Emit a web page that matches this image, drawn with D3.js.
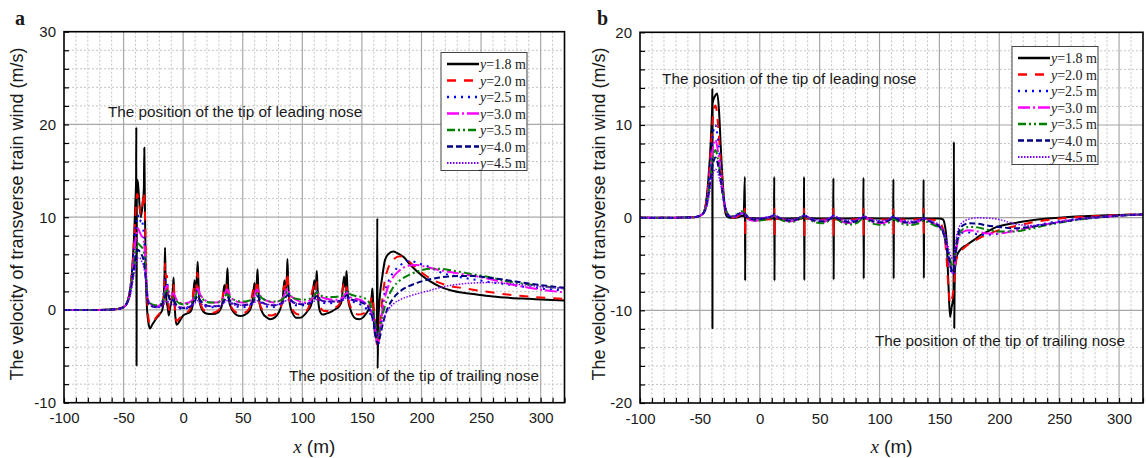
<!DOCTYPE html>
<html>
<head>
<meta charset="utf-8">
<script src="https://cdn.jsdelivr.net/npm/d3@7"></script>
<style>
body { margin: 0; background: #fff; }
svg { display: block; }
text { font-family: "Liberation Sans", Arial, sans-serif; fill: #1a1a1a; }
</style>
</head>
<body>
<svg id="chart" width="1146" height="458"></svg>
<script>
// ---- data ----
var heights = ["1.8", "2.0", "2.5", "3.0", "3.5", "4.0", "4.5"];
var xTickLabels = [-100, -50, 0, 50, 100, 150, 200, 250, 300];
var yTickLabelsA = [-10, 0, 10, 20, 30];
var yTickLabelsB = [-20, -10, 0, 10, 20];

// panel a : [x (m), velocity (m/s)]
var a18 = [[-100,0],[-70,0],[-55,0.1],[-50,0.3],[-47,0.8],[-45,1.8],[-43,4],[-41,8.5],[-40,12],[-39.5,14],[-39.3,19.7],[-39.1,-6],[-38.9,13.5],[-38.2,14],[-37,12],[-35.5,10],[-34,11.5],[-33,13],[-32.6,17.5],[-32.2,12],[-31.5,5],[-30.5,0.5],[-29,-1.5],[-27.8,-2],[-26,-1.6],[-23,-1.0],[-20,-0.5],[-17.5,0],[-16.3,1.5],[-15.6,4],[-15.2,6.7],[-14.8,3.5],[-14,1],[-13,0.3],[-12,-0.6],[-11,0.2],[-9.5,1.2],[-8.5,2.5],[-8,3.5],[-7.5,1.5],[-6.5,-0.8],[-5.4,-1.6],[-3,-1.2],[0,-0.6],[3,-0.4],[6,-0.2],[8,0.5],[9.5,3.2],[10.5,2],[11.5,3.5],[12.2,5.2],[12.8,3],[13.5,1.2],[15,0.3],[17,-0.2],[20,-0.4],[25,-0.45],[29,-0.3],[31,0],[33,0.8],[34.5,2.7],[35.5,1.8],[36.5,3],[37.2,4.5],[37.8,2.5],[38.5,1.0],[40,0.3],[42,-0.2],[45,-0.55],[48,-0.65],[52,-0.5],[55,-0.2],[57,0.3],[58.5,1.2],[59.8,2.9],[60.8,1.8],[61.8,3],[62.4,4.4],[63,2.5],[63.8,1.0],[65,0.2],[67,-0.4],[70,-0.8],[73,-1.0],[77,-0.8],[80,-0.3],[82,0.3],[83.5,1.2],[85,3.2],[86,2.0],[87,3.5],[87.5,5.5],[88.1,3],[89,1.2],[90,0.3],[92,-0.4],[95,-0.85],[98,-0.85],[102,-0.5],[105,0],[107,0.4],[108.5,1.2],[110,3.2],[111,2.2],[111.6,3],[112.1,4.2],[112.7,2.5],[113.5,0.8],[115,-0.2],[117,-0.5],[120,-0.4],[124,-0.2],[128,0.1],[131,0.4],[133,1],[135,3.6],[136,2.4],[136.6,3],[137.1,4.2],[137.8,2.5],[138.6,1.0],[140,0.2],[142,-0.5],[145,-0.95],[148,-1.0],[151,-0.8],[153.5,-0.4],[155.5,0],[157,0.5],[158.2,1.5],[158.8,2.3],[159.5,0.5],[160.5,-2],[161.5,-3],[162.5,-2],[162.9,9.9],[163.2,-6.3],[163.6,-2],[165,1.4],[167,3.5],[169.4,5.4],[172,6.0],[176.4,6.3],[180,6.1],[185,5.7],[190,4.95],[195,4.3],[200,3.75],[207,3.1],[215,2.55],[225,2.1],[235,1.85],[245,1.7],[260,1.45],[275,1.3],[290,1.2],[305,1.1],[320,1.02]];
var a20 = [[-100,0],[-70,0],[-55,0.1],[-50,0.3],[-47,0.8],[-45,1.8],[-43,4],[-41,8],[-39.5,11.5],[-38.5,12.5],[-37,11.5],[-35.5,10.3],[-34,11.5],[-33,12.7],[-32,10],[-31,4],[-30,0.5],[-29,-1],[-28,-1.5],[-25,-1.2],[-22,-0.7],[-19,-0.2],[-17,0.5],[-16,2.5],[-15.2,5.0],[-14.5,3.5],[-13.5,3.7],[-12.8,1.5],[-12,0],[-10.5,0.8],[-9,1.5],[-8,2.8],[-7,0.5],[-5.5,-1.2],[-3,-0.9],[0,-0.4],[4,-0.2],[7,0.5],[9.5,2.5],[10.5,1.8],[12,4.0],[13,2.0],[14,1.0],[16,0.2],[20,-0.2],[25,-0.3],[29,-0.1],[32,0.6],[34.5,2.2],[35.5,1.7],[37,2.9],[38,1.8],[39,0.9],[41,0.2],[45,-0.3],[49,-0.4],[53,-0.2],[56,0.3],[59.5,2.4],[60.5,1.8],[62,3.2],[63,2],[64,0.8],[66,0.1],[70,-0.5],[74,-0.6],[78,-0.4],[82,0.3],[85,2.6],[86,1.9],[87.5,4.0],[88.5,2],[90,0.6],[93,-0.2],[97,-0.5],[101,-0.3],[105,0.2],[110,2.6],[111,2],[112,3.0],[113,1.8],[115,0.3],[118,-0.1],[122,-0.1],[127,0.2],[131,0.6],[135,2.8],[136,2],[137,2.5],[138,1.5],[140,0.5],[143,-0.2],[147,-0.5],[151,-0.4],[154,-0.1],[157,0.8],[158.8,1.5],[160,0],[161.5,-2],[163,-4.0],[164,-3.6],[165.5,-1],[167,1],[169,3],[172,4.5],[176,5.4],[182,5.8],[188,5.4],[195,4.6],[202,3.85],[210,3.2],[220,2.7],[235,2.35],[250,2.05],[270,1.7],[290,1.45],[305,1.3],[320,1.2]];
var a25 = [[-100,0],[-70,0],[-55,0.1],[-50,0.3],[-47,0.8],[-45,1.8],[-43,3.8],[-41,7],[-39.5,9.3],[-38,10.2],[-36.5,9.5],[-35,9.8],[-33,8],[-32,6],[-31,3.5],[-30,1.5],[-28.5,0.7],[-26,0.4],[-22,0.3],[-19,0.5],[-17,1.2],[-15.5,2.6],[-14.5,3.3],[-13.5,3.0],[-12,1.5],[-10,0.8],[-8,1.2],[-6.5,0.6],[-4,0.2],[0,0.1],[5,0.3],[9,1.0],[12,2.2],[14,1.2],[17,0.5],[22,0.3],[28,0.3],[33,0.8],[37,1.9],[40,0.9],[44,0.4],[50,0.3],[55,0.5],[59,1.0],[62,2.1],[65,1.0],[69,0.4],[75,0.3],[80,0.5],[84,1.2],[87.5,2.2],[90,1.2],[95,0.5],[100,0.5],[105,0.7],[109,1.2],[112,2.0],[115,1.1],[120,0.7],[127,0.8],[132,1.0],[135,1.4],[137,2.0],[140,1.0],[145,0.8],[150,0.5],[154,0.1],[157,-0.4],[160,-1.6],[162,-3.2],[163.5,-3.8],[165,-2.5],[167,0],[169,1.8],[172,3.0],[176,4.0],[182,4.8],[190,5.3],[198,5.0],[207,4.6],[215,4.1],[230,3.6],[243,3.3],[258,3.0],[272,2.75],[290,2.45],[305,2.25],[320,2.1]];
var a30 = [[-100,0],[-70,0],[-55,0.1],[-50,0.3],[-47,0.8],[-45,1.7],[-43,3.5],[-41,6.2],[-39.5,8.0],[-38,8.8],[-36.5,8.4],[-35,8.0],[-33.5,7.7],[-32,6],[-31,3.5],[-30,1.5],[-28.5,0.8],[-26,0.5],[-22,0.4],[-19,0.6],[-17,1.1],[-15,2.2],[-13.5,2.6],[-12,2.0],[-10,1.6],[-8,1.8],[-6,1.2],[-3,0.8],[1,0.7],[5,0.8],[9,1.3],[12,2.3],[14.5,1.6],[18,1.1],[23,0.8],[28,0.8],[33,1.2],[37,2.2],[40,1.4],[45,0.9],[50,0.8],[55,0.9],[59,1.3],[62,2.2],[65,1.5],[70,1.0],[76,0.8],[81,1.0],[84.5,1.5],[87.5,2.3],[90,1.6],[95,1.1],[101,0.8],[106,1.0],[109.5,1.4],[112,2.0],[115,1.5],[120,1.2],[127,1.1],[132,1.2],[135,1.5],[137,1.9],[140,1.4],[145,1.2],[150,1.0],[154,0.6],[157,0.1],[160,-1.2],[162,-2.8],[163.5,-3.5],[165,-2.2],[167,-0.2],[169,1.2],[172,2.5],[176,3.5],[182,4.3],[190,4.8],[196,4.85],[205,4.6],[215,4.3],[230,3.95],[243,3.7],[258,3.3],[272,2.85],[290,2.4],[305,2.1],[320,1.9]];
var a35 = [[-100,0],[-70,0],[-55,0.1],[-50,0.3],[-47,0.8],[-45,1.6],[-43,3.2],[-41,5.3],[-39.5,6.6],[-38,7.2],[-36.5,7.0],[-35,6.8],[-33.5,6.5],[-32,5],[-31,3],[-30,1.5],[-28.5,0.8],[-26,0.6],[-22,0.5],[-19,0.6],[-17,1.1],[-15,1.9],[-13.5,2.1],[-12,1.7],[-10,1.3],[-8,1.3],[-6,1.0],[-3,0.7],[1,0.6],[5,0.7],[9,1.1],[12,1.9],[14.5,1.4],[18,1.0],[23,0.8],[28,0.8],[33,1.1],[37,1.7],[40,1.3],[45,1.0],[50,0.9],[55,1.0],[59,1.2],[62,1.8],[65,1.4],[70,1.0],[76,0.9],[81,1.0],[84.5,1.3],[87.5,1.9],[90,1.5],[95,1.2],[101,1.1],[106,1.2],[109.5,1.4],[112,1.9],[115,1.6],[120,1.4],[127,1.4],[132,1.5],[135,1.7],[137,2.0],[140,1.7],[145,1.5],[150,1.4],[154,1.1],[157,0.6],[160,-0.6],[162,-2.2],[163.5,-3.0],[165,-2.2],[167,-0.8],[169,0.3],[172,1.4],[176,2.4],[182,3.2],[190,3.8],[198,4.2],[207,4.45],[215,4.45],[230,4.15],[243,3.85],[258,3.5],[272,3.1],[290,2.75],[305,2.5],[320,2.3]];
var a40 = [[-100,0],[-70,0],[-55,0.1],[-50,0.3],[-47,0.8],[-45,1.5],[-43,2.9],[-41,4.7],[-39.5,5.9],[-38,6.5],[-36.5,6.3],[-35,6.0],[-33.5,5.5],[-32,4.2],[-31,2.6],[-30,1.2],[-28.5,0.6],[-26,0.4],[-22,0.3],[-19,0.4],[-17,0.8],[-15,1.5],[-13.5,1.9],[-12,1.4],[-10,1.0],[-8,1.0],[-6,0.6],[-3,0.3],[1,0.2],[5,0.3],[9,0.7],[12,1.5],[14.5,1.0],[18,0.6],[23,0.4],[28,0.4],[33,0.7],[37,1.4],[40,0.9],[45,0.6],[50,0.5],[55,0.6],[59,0.9],[62,1.5],[65,1.0],[70,0.6],[76,0.5],[81,0.6],[84.5,1.0],[87.5,1.6],[90,1.1],[95,0.7],[101,0.6],[106,0.7],[109.5,1.0],[112,1.5],[115,1.1],[120,0.9],[127,0.9],[132,1.0],[135,1.2],[137,1.6],[140,1.2],[145,1.0],[150,0.8],[154,0.5],[157,-0.1],[160,-1.5],[162,-3.0],[163.5,-3.7],[165,-3.0],[167,-1.8],[169,-0.8],[172,0.3],[176,1.2],[182,2.0],[190,2.6],[198,3.0],[207,3.3],[215,3.5],[230,3.65],[243,3.65],[258,3.45],[272,3.2],[290,2.85],[305,2.6],[320,2.4]];
var a45 = [[-100,0],[-70,0],[-55,0.1],[-50,0.3],[-47,0.7],[-45,1.3],[-43,2.5],[-41,4.0],[-39.5,5.0],[-38,5.6],[-36.5,5.6],[-35,5.3],[-33.5,4.8],[-32,3.8],[-31,2.5],[-30,1.4],[-28.5,0.8],[-26,0.5],[-22,0.3],[-19,0.3],[-17,0.5],[-15,0.8],[-13.5,1.0],[-12,0.8],[-10,0.6],[-8,0.6],[-6,0.4],[-3,0.3],[1,0.3],[5,0.4],[9,0.6],[12,1.0],[14.5,0.7],[18,0.5],[23,0.4],[28,0.4],[33,0.6],[37,1.0],[40,0.7],[45,0.5],[50,0.5],[55,0.5],[59,0.7],[62,1.0],[65,0.8],[70,0.6],[76,0.55],[81,0.6],[84.5,0.8],[87.5,1.1],[90,0.9],[95,0.7],[101,0.7],[106,0.8],[109.5,0.9],[112,1.1],[115,1.0],[120,0.9],[127,0.9],[132,1.0],[135,1.1],[137,1.3],[140,1.1],[145,1.0],[150,0.9],[154,0.6],[157,0.1],[160,-1.0],[162,-2.3],[163.5,-2.8],[165,-2.4],[167,-1.5],[169,-0.7],[172,0.0],[176,0.6],[182,1.1],[190,1.5],[198,1.8],[207,2.1],[215,2.4],[230,2.75],[243,2.9],[258,2.95],[272,2.85],[290,2.65],[305,2.45],[320,2.3]];

// panel b : [x (m), velocity (m/s)]
var b18 = [[-100,0],[-70,0],[-55,0.05],[-50,0.2],[-47,0.5],[-45,1.5],[-43,4],[-41,8],[-40,11],[-39.7,12.3],[-39.6,13.85],[-39.5,-11.9],[-39.4,12.3],[-38.5,12.8],[-37,13.2],[-35.5,13.4],[-34,11.5],[-32.5,7.5],[-31.5,5],[-30,2.2],[-29,0.8],[-27.5,0.15],[-25,0],[-20,0],[-17,0.1],[-15,0.2],[-13.5,0.15],[-12.4,4.4],[-12.2,-6.8],[-12.0,0],[-8,-0.05],[0,-0.1],[11.9,-0.1],[12.1,4.4],[12.3,-6.8],[12.5,-0.1],[25,-0.1],[36.8,-0.05],[37,4.4],[37.2,-6.75],[37.4,-0.05],[50,-0.1],[61.3,-0.1],[61.5,4.25],[61.7,-6.7],[61.9,-0.1],[75,-0.1],[86.4,-0.05],[86.6,4.3],[86.8,-6.6],[87,-0.05],[100,-0.1],[111.4,-0.1],[111.6,4.15],[111.8,-6.6],[112,-0.1],[125,-0.1],[136.6,-0.05],[136.8,4.1],[137,-6.55],[137.2,-0.1],[150,-0.1],[153,-0.2],[154.5,-0.8],[156,-2.4],[157.4,-6.7],[158.9,-10.7],[160.3,-9.6],[161.8,-8.5],[162.1,8.2],[162.4,-11.9],[162.8,-6],[164.4,-4.2],[167.2,-3.5],[172.8,-2.95],[180,-2.3],[184,-1.9],[190,-1.5],[198,-1.0],[212,-0.6],[226,-0.3],[240,-0.1],[255,0.05],[270,0.15],[290,0.25],[305,0.3],[320,0.35]];
var b20 = [[-100,0],[-70,0],[-55,0.05],[-50,0.2],[-47,0.5],[-45,1.4],[-43,3.6],[-41,7.2],[-39.5,10.3],[-38,11.8],[-37,12.1],[-36,11.6],[-34.5,9.5],[-33,6.8],[-31.5,4.2],[-30,2.0],[-28.5,0.7],[-27,0.2],[-24,0],[-20,0.05],[-17,0.25],[-15,0.35],[-13.5,0.2],[-12.4,1.0],[-12.2,-2.0],[-12,0],[-8,-0.2],[0,-0.2],[11.9,-0.15],[12.1,1.0],[12.3,-2.0],[12.5,-0.15],[25,-0.2],[36.8,-0.1],[37,1.0],[37.2,-2.1],[37.4,-0.1],[50,-0.2],[61.3,-0.2],[61.5,1.0],[61.7,-2.0],[61.9,-0.2],[75,-0.2],[86.4,-0.1],[86.6,1.0],[86.8,-2.0],[87,-0.1],[100,-0.2],[111.4,-0.2],[111.6,0.9],[111.8,-2.0],[112,-0.2],[125,-0.2],[136.6,-0.15],[136.8,1.0],[137,-2.0],[137.2,-0.2],[148,-0.25],[151,-0.6],[153.5,-1.5],[155.5,-3.5],[157.5,-7.5],[159,-9.3],[160.5,-8.8],[162,-7.5],[163.5,-5],[165,-4.2],[168,-3.6],[172,-3.1],[178,-2.6],[185,-2.1],[192,-1.7],[200,-1.35],[212,-0.95],[226,-0.55],[240,-0.25],[255,-0.05],[270,0.1],[290,0.22],[305,0.3],[320,0.35]];
var b25 = [[-100,0],[-70,0],[-55,0.05],[-50,0.2],[-47,0.5],[-45,1.3],[-43,3.2],[-41,6.2],[-39.5,8.6],[-38,9.8],[-37,10.0],[-36,9.5],[-34.5,8.0],[-33,6.0],[-31.5,3.8],[-30,2.0],[-28.5,0.9],[-27,0.3],[-24,0.05],[-20,0.1],[-17,0.35],[-15,0.45],[-12.5,0.3],[-9,-0.1],[-4,-0.2],[0,-0.1],[5,0],[9,0.1],[12,0.25],[16,0],[21,-0.2],[27,-0.25],[32,-0.1],[37,0.25],[41,0],[46,-0.2],[52,-0.3],[57,-0.15],[62,0.2],[66,-0.05],[71,-0.3],[77,-0.35],[82,-0.15],[87,0.15],[91,-0.1],[96,-0.35],[102,-0.4],[107,-0.2],[112,0.1],[116,-0.15],[121,-0.4],[127,-0.45],[132,-0.3],[137,-0.05],[141,-0.3],[146,-0.6],[150,-0.9],[153,-1.5],[155.5,-2.8],[158,-4.6],[160,-5.9],[161.5,-6.2],[163,-4.8],[164.5,-3.0],[166.5,-2.0],[170,-1.6],[175,-1.6],[182,-1.8],[190,-1.85],[200,-1.7],[212,-1.35],[226,-0.95],[240,-0.6],[255,-0.3],[270,-0.05],[290,0.15],[305,0.28],[320,0.35]];
var b30 = [[-100,0],[-70,0],[-55,0.05],[-50,0.2],[-47,0.5],[-45,1.2],[-43,2.8],[-41,5.2],[-39.5,7.2],[-38,8.2],[-37,8.4],[-36,8.0],[-34.5,6.8],[-33,5.2],[-31.5,3.4],[-30,1.9],[-28.5,0.9],[-27,0.35],[-24,0.1],[-20,0.15],[-17,0.4],[-15,0.5],[-12.5,0.3],[-9,-0.2],[-4,-0.35],[0,-0.25],[5,-0.1],[9,0.05],[12,0.2],[16,-0.1],[21,-0.35],[27,-0.4],[32,-0.2],[37,0.2],[41,-0.1],[46,-0.4],[52,-0.5],[57,-0.3],[62,0.1],[66,-0.2],[71,-0.55],[77,-0.6],[82,-0.35],[87,0.1],[91,-0.2],[96,-0.55],[102,-0.6],[107,-0.4],[112,0.0],[116,-0.3],[121,-0.55],[127,-0.6],[132,-0.45],[137,-0.15],[141,-0.4],[146,-0.7],[150,-1.0],[153,-1.6],[155.5,-2.8],[158,-4.5],[160,-5.7],[161.5,-6.0],[163,-4.8],[164.5,-3.2],[166.5,-2.0],[170,-1.5],[175,-1.35],[182,-1.5],[190,-1.7],[200,-1.7],[212,-1.45],[226,-1.05],[240,-0.7],[255,-0.35],[270,-0.1],[290,0.12],[305,0.26],[320,0.35]];
var b35 = [[-100,0],[-70,0],[-55,0.05],[-50,0.2],[-47,0.5],[-45,1.1],[-43,2.5],[-41,4.6],[-39.5,6.2],[-38,7.1],[-37,7.3],[-36,7.0],[-34.5,6.0],[-33,4.7],[-31.5,3.2],[-30,1.9],[-28.5,1.0],[-27,0.45],[-24,0.15],[-20,0.25],[-17,0.55],[-15,0.7],[-12.5,0.45],[-9,0.0],[-4,-0.3],[0,-0.3],[5,-0.2],[9,0.0],[12,0.2],[16,-0.1],[21,-0.4],[27,-0.45],[32,-0.25],[37,0.15],[41,-0.15],[46,-0.5],[52,-0.6],[57,-0.4],[62,0.0],[66,-0.3],[71,-0.65],[77,-0.75],[82,-0.5],[87,-0.05],[91,-0.35],[96,-0.7],[102,-0.8],[107,-0.6],[112,-0.15],[116,-0.45],[121,-0.75],[127,-0.8],[132,-0.65],[137,-0.3],[141,-0.55],[146,-0.85],[150,-1.1],[153,-1.6],[155.5,-2.6],[158,-4.0],[160,-5.0],[161.5,-5.3],[163,-4.3],[164.5,-2.9],[166.5,-1.8],[170,-1.2],[175,-1.0],[182,-1.05],[190,-1.3],[200,-1.5],[212,-1.5],[226,-1.2],[240,-0.8],[255,-0.45],[270,-0.15],[290,0.1],[305,0.25],[320,0.35]];
var b40 = [[-100,0],[-70,0],[-55,0.05],[-50,0.2],[-47,0.5],[-45,1.0],[-43,2.3],[-41,4.2],[-39.5,5.6],[-38,6.3],[-37,6.5],[-36,6.3],[-34.5,5.5],[-33,4.4],[-31.5,3.0],[-30,1.8],[-28.5,0.9],[-27,0.4],[-24,0.1],[-20,0.2],[-17,0.45],[-15,0.55],[-12.5,0.35],[-9,0],[-4,-0.2],[0,-0.15],[5,-0.05],[9,0.1],[12,0.25],[16,0],[21,-0.25],[27,-0.3],[32,-0.15],[37,0.2],[41,-0.05],[46,-0.3],[52,-0.4],[57,-0.25],[62,0.1],[66,-0.15],[71,-0.4],[77,-0.5],[82,-0.3],[87,0.05],[91,-0.2],[96,-0.45],[102,-0.5],[107,-0.35],[112,0.0],[116,-0.25],[121,-0.5],[127,-0.55],[132,-0.4],[137,-0.1],[141,-0.35],[146,-0.65],[150,-0.95],[153,-1.5],[155.5,-2.7],[158,-4.4],[160,-5.6],[161.5,-5.9],[163,-4.4],[164.5,-2.6],[166.5,-1.4],[170,-0.8],[175,-0.6],[182,-0.65],[190,-0.85],[200,-1.0],[212,-1.15],[226,-1.0],[240,-0.7],[255,-0.4],[270,-0.12],[290,0.1],[305,0.25],[320,0.35]];
var b45 = [[-100,0],[-70,0],[-55,0.05],[-50,0.2],[-47,0.45],[-45,0.9],[-43,1.9],[-41,3.4],[-39.5,4.5],[-38,5.1],[-37,5.25],[-36,5.1],[-34.5,4.6],[-33,3.8],[-31.5,2.8],[-30,1.8],[-28.5,1.0],[-27,0.45],[-24,0.15],[-20,0.2],[-17,0.4],[-15,0.5],[-12.5,0.35],[-9,0.05],[-4,-0.1],[0,-0.05],[5,0.05],[9,0.15],[12,0.3],[16,0.05],[21,-0.15],[27,-0.2],[32,-0.05],[37,0.25],[41,0.05],[46,-0.2],[52,-0.25],[57,-0.1],[62,0.2],[66,0],[71,-0.25],[77,-0.3],[82,-0.15],[87,0.15],[91,-0.05],[96,-0.3],[102,-0.35],[107,-0.2],[112,0.1],[116,-0.1],[121,-0.35],[127,-0.4],[132,-0.3],[137,-0.05],[141,-0.25],[146,-0.5],[150,-0.8],[153,-1.3],[155.5,-2.2],[158,-3.5],[160,-4.3],[161.5,-4.5],[163,-3.3],[164.5,-1.9],[166.5,-1.0],[170,-0.45],[175,-0.15],[182,-0.02],[190,-0.05],[200,-0.2],[212,-0.65],[226,-0.85],[240,-0.65],[255,-0.4],[270,-0.12],[290,0.1],[305,0.25],[320,0.35]];

// ---- styles ----
var colors = ["#000000", "#ff0000", "#0000ff", "#ff00ff", "#008000", "#000080", "#8000ff"];
var dashes = [null, "9,8", "2,5", "12,3,2,3", "8,3,2,3,2,3", "6,3", "1.5,1.5"];
var widths = [2, 2, 2, 2, 2, 2, 1.5];

var svg = d3.select("#chart");

function drawPanel(opt) {
    var g = svg.append("g");
    var x = d3.scaleLinear().domain([-100, 320]).range([opt.left, opt.right]);
    var y = d3.scaleLinear().domain(opt.yDomain).range([opt.bottom, opt.top]);

    // minor grid
    var xMinor = d3.range(-90, 320, 10).filter(function(d) { return d % 50 !== 0; });
    var yMinor = d3.range(opt.yDomain[0] + 2, opt.yDomain[1], 2).filter(function(d) { return d % 10 !== 0; });
    var grid = g.append("g");
    grid.selectAll(".vx").data(xMinor).enter().append("line")
        .attr("x1", x).attr("x2", x).attr("y1", opt.top).attr("y2", opt.bottom)
        .attr("stroke", "#c4c4c4").attr("stroke-width", 1).attr("stroke-dasharray", "2,2");
    grid.selectAll(".hy").data(yMinor).enter().append("line")
        .attr("x1", opt.left).attr("x2", opt.right).attr("y1", y).attr("y2", y)
        .attr("stroke", "#c4c4c4").attr("stroke-width", 1).attr("stroke-dasharray", "2,2");
    // major grid
    grid.selectAll(".vX").data(xTickLabels.slice(1)).enter().append("line")
        .attr("x1", x).attr("x2", x).attr("y1", opt.top).attr("y2", opt.bottom)
        .attr("stroke", "#a8a8a8").attr("stroke-width", 1.2);
    grid.selectAll(".hY").data(opt.yLabels.slice(1, -1)).enter().append("line")
        .attr("x1", opt.left).attr("x2", opt.right).attr("y1", y).attr("y2", y)
        .attr("stroke", "#a8a8a8").attr("stroke-width", 1.2);

    // axes, ticks inward
    var xAxis = d3.axisBottom(x)
        .tickValues(d3.range(-100, 321, 10))
        .tickSize(-5).tickPadding(10)
        .tickFormat(function(d) { return xTickLabels.indexOf(d) >= 0 ? d : ""; });
    var gx = g.append("g").attr("transform", "translate(0," + opt.bottom + ")").call(xAxis);
    var yAxis = d3.axisLeft(y)
        .tickValues(d3.range(opt.yDomain[0], opt.yDomain[1] + 0.1, 2))
        .tickSize(-5).tickPadding(8)
        .tickFormat(function(d) { return opt.yLabels.indexOf(d) >= 0 ? d : ""; });
    var gy = g.append("g").attr("transform", "translate(" + opt.left + ",0)").call(yAxis);
    [gx, gy].forEach(function(a) {
        a.select(".domain").remove();
        a.selectAll(".tick line").attr("stroke", "#000").attr("stroke-width", 1.2);
        a.selectAll(".tick text").attr("font-size", 15)
            .attr("font-family", "'Liberation Sans', Arial, sans-serif").attr("fill", "#1a1a1a");
    });

    // curves
    var clipId = "clip" + opt.name;
    svg.append("clipPath").attr("id", clipId).append("rect")
        .attr("x", opt.left).attr("y", opt.top)
        .attr("width", opt.right - opt.left).attr("height", opt.bottom - opt.top);
    var line = d3.line()
        .x(function(d) { return x(d[0]); })
        .y(function(d) { return y(d[1]); })
        .curve(d3.curveMonotoneX);
    var curves = g.append("g").attr("clip-path", "url(#" + clipId + ")");
    opt.series.forEach(function(s, i) {
        curves.append("path")
            .attr("d", line(s))
            .attr("fill", "none")
            .attr("stroke", colors[i])
            .attr("stroke-width", widths[i])
            .attr("stroke-dasharray", dashes[i])
            .attr("stroke-linejoin", "round");
    });

    // frame
    g.append("rect")
        .attr("x", opt.left).attr("y", opt.top)
        .attr("width", opt.right - opt.left).attr("height", opt.bottom - opt.top)
        .attr("fill", "none").attr("stroke", "#000").attr("stroke-width", 1.6);

    // annotations
    g.append("text").attr("x", x(opt.lead[0])).attr("y", y(opt.lead[1]))
        .attr("font-size", 15.3).text("The position of the tip of leading nose");
    g.append("text").attr("x", x(opt.trail[0])).attr("y", y(opt.trail[1]))
        .attr("font-size", 15.3).text("The position of the tip of trailing nose");

    // legend
    var lg = g.append("g").attr("transform", "translate(" + opt.legend[0] + "," + opt.legend[1] + ")");
    lg.append("rect").attr("width", 86).attr("height", 118)
        .attr("fill", "#fff").attr("stroke", "#444").attr("stroke-width", 1);
    heights.forEach(function(h, i) {
        var ly = 11.5 + i * 16.5;
        lg.append("line").attr("x1", 6).attr("x2", 38).attr("y1", ly).attr("y2", ly)
            .attr("stroke", colors[i]).attr("stroke-width", widths[i] + 0.5)
            .attr("stroke-dasharray", dashes[i]);
        var t = lg.append("text").attr("x", 39).attr("y", ly + 5)
            .attr("font-size", 14).style("font-family", "'Liberation Serif', 'Times New Roman', serif");
        t.append("tspan").attr("font-style", "italic").text("y");
        t.append("tspan").text("=" + h + " m");
    });

    // axis titles
    var xt = g.append("text").attr("x", (opt.left + opt.right) / 2).attr("y", 453)
        .attr("text-anchor", "middle").attr("font-size", 19);
    xt.append("tspan").attr("font-style", "italic")
        .style("font-family", "'Liberation Serif', 'Times New Roman', serif").text("x");
    xt.append("tspan").text(" (m)");
    g.append("text")
        .attr("transform", "translate(" + opt.titleX + ",214) rotate(-90)")
        .attr("text-anchor", "middle").attr("dy", "0.35em").attr("font-size", 18)
        .text("The velocity of transverse train wind (m/s)");

    g.append("text").attr("x", opt.tag[0]).attr("y", opt.tag[1])
        .attr("font-size", 20).attr("font-weight", "bold")
        .style("font-family", "'Liberation Serif', 'Times New Roman', serif")
        .text(opt.name);
}

drawPanel({
    name: "a", left: 64, right: 564.5, top: 31.7, bottom: 402.7,
    yDomain: [-10, 30], yLabels: yTickLabelsA,
    series: [a18, a20, a25, a30, a35, a40, a45],
    lead: [-63.1, 20.75], trail: [88.8, -7.66],
    legend: [441, 52.5], titleX: 16.5, tag: [15, 25]
});
drawPanel({
    name: "b", left: 640, right: 1143, top: 32.3, bottom: 403,
    yDomain: [-20, 20], yLabels: yTickLabelsB,
    series: [b18, b20, b25, b30, b35, b40, b45],
    lead: [-81.6, 14.42], trail: [96.2, -13.85],
    legend: [1012, 46.5], titleX: 599, tag: [597, 25]
});
</script>
</body>
</html>
